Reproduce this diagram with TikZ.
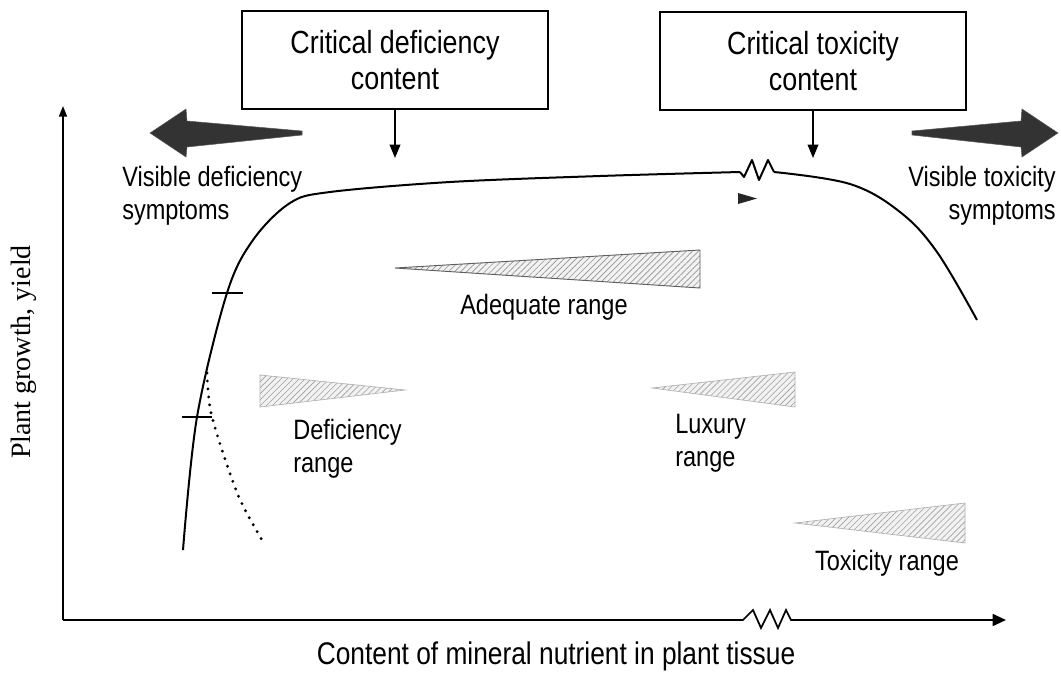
\documentclass[tikz,border=0pt]{standalone}
\usepackage{fontspec}
\setmainfont[FakeStretch=0.84]{Liberation Sans}
\newfontfamily\yserif{Liberation Serif}
\usetikzlibrary{arrows.meta,patterns.meta}
\tikzset{
  lbl/.style={font=\fontsize{21}{24.5}\selectfont, inner sep=0pt},
  critbox/.style={draw, line width=1.3pt, minimum width=230pt, minimum height=74pt,
    align=center, font=\fontsize{24}{26.5}\selectfont, inner sep=2pt},
  conn/.style={line width=1.1pt, -{Triangle[length=10pt,width=8pt]}},
  axis/.style={line width=1.3pt},
  curve/.style={line width=1.5pt, line join=round},
  bigarrow/.style={fill=black!80, draw=black!65, line width=0.4pt},
  wedge/.style={draw=gray!75!black, line width=0.7pt, preaction={fill=gray!10},
    pattern={Lines[angle=45,distance=3.2pt,line width=0.5pt]}, pattern color=gray!85},
  wedgelight/.style={draw=gray!60, line width=0.5pt, preaction={fill=gray!10},
    pattern={Lines[angle=45,distance=3.2pt,line width=0.45pt]}, pattern color=gray!75}
}
\begin{document}
\begin{tikzpicture}[x=0.75pt,y=-0.75pt]
\useasboundingbox[fill=white] (0,0) rectangle (1061,672);

% axes
\coordinate (O) at (63,620);
\coordinate (ytop) at (63,106);
\coordinate (xend) at (1006,620);
\draw[axis, -{Triangle[length=8pt,width=6pt]}] (O) -- (ytop);
\draw[axis, -{Triangle[length=10pt,width=9pt]}] (O) -- (743,620) -- (753,610) -- (761,628) -- (770,610) -- (778,628) -- (786,610) -- (791,620) -- (xend);

% axis labels
\node[inner sep=0pt, font=\fontsize{23.5}{26}\selectfont] (xlab) at (556,656) {Content of mineral nutrient in plant tissue};
\node[inner sep=0pt, font=\yserif\fontsize{21}{24}\selectfont, rotate=90] (ylab) at (24,352) {Plant growth, yield};

% boxes
\node[critbox] (b1) at (395,60) {Critical deficiency\\content};
\node[critbox] (b2) at (813,61) {Critical toxicity\\content};
\coordinate (a1) at (b1.south |- 0,158);
\coordinate (a2) at (b2.south |- 0,158);
\draw[conn] (b1.south) -- (a1);
\draw[conn] (b2.south) -- (a2);

% big arrows
\draw[bigarrow] (150,133) -- (186,109) -- (187,121) -- (302,131) -- (302,135) -- (187,147) -- (186,157) -- cycle;
\draw[bigarrow] (1058,133) -- (1022,109) -- (1021,121) -- (912,131) -- (912,135) -- (1021,147) -- (1022,157) -- cycle;

\node[lbl, align=left, anchor=west] (vd) at (122,196) {Visible deficiency\\symptoms};
\node[lbl, align=right, anchor=east] (vt) at (1056,196) {Visible toxicity\\symptoms};

% main curve
\draw[curve] plot[smooth, tension=0.55] coordinates {(183,550) (197,417) (227,293) (253,240) (290,203) (330,192) (450,182) (600,176) (740,172)};
\draw[curve] (740,172) -- (744,177) -- (752,160) -- (759,180) -- (768,160) -- (774,172);
\draw[curve] plot[smooth, tension=0.6] coordinates {(774,172) (850,184) (900,212) (937,252) (977,320)};

% ticks on curve
\draw[line width=1.3pt] (212,293) -- (243,293);
\draw[line width=1.3pt] (182,417) -- (212,417);

% dotted branch
\draw[line width=2.4pt, line cap=round, dash pattern=on 0pt off 6pt] plot[smooth, tension=0.5] coordinates {(207,373) (212,417) (238,495) (265,545)};

% small arrowhead
\fill[black!85] (738,193) -- (757,198.5) -- (738,204) -- cycle;

% range wedges
\draw[wedge] (395,268) -- (700,250) -- (700,288) -- cycle;
\draw[wedgelight] (260,375) -- (405,390) -- (260,407) -- cycle;
\draw[wedgelight] (652,388) -- (795,372) -- (795,407) -- cycle;
\draw[wedgelight] (795,523) -- (965,503) -- (965,543) -- cycle;

\node[lbl] (adq) at (544,307) {Adequate range};
\node[lbl, align=left, anchor=west] (dfr) at (293,449) {Deficiency\\range};
\node[lbl, align=left, anchor=west] (lxr) at (675,443) {Luxury\\range};
\node[lbl] (txr) at (887,563) {Toxicity range};
\end{tikzpicture}
\end{document}
